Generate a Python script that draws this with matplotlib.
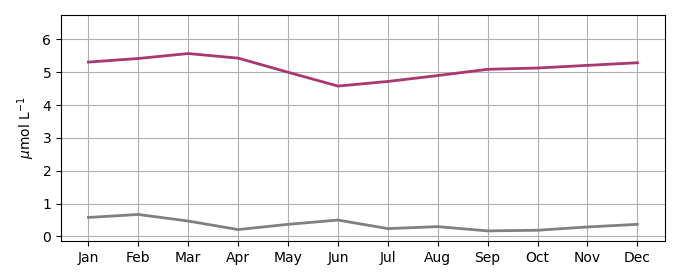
import matplotlib
matplotlib.use("Agg")
import matplotlib.pyplot as plt

months = ["Jan", "Feb", "Mar", "Apr", "May", "Jun", "Jul", "Aug", "Sep", "Oct", "Nov", "Dec"]
upper = [5.31, 5.42, 5.57, 5.43, 5.00, 4.58, 4.72, 4.90, 5.09, 5.13, 5.21, 5.29]
lower = [0.58, 0.67, 0.47, 0.21, 0.37, 0.50, 0.24, 0.30, 0.17, 0.19, 0.29, 0.37]

fig = plt.figure(figsize=(6.8, 2.8), dpi=100)
ax = fig.add_axes([0.0897, 0.139, 0.888, 0.807])

x = range(len(months))
ax.plot(x, upper, color="#a8386f", linewidth=2)
ax.plot(x, lower, color="#808080", linewidth=2)

ax.set_xticks(list(x))
ax.set_xticklabels(months)
ax.set_xlim(-0.55, 11.55)
ax.set_ylim(-0.14, 6.74)
ax.set_yticks(range(0, 7))
ax.set_ylabel(r"$\mu$mol L$^{-1}$")
ax.grid(True, color="#b0b0b0")
ax.set_axisbelow(True)

fig.savefig("out.png", dpi=100)
